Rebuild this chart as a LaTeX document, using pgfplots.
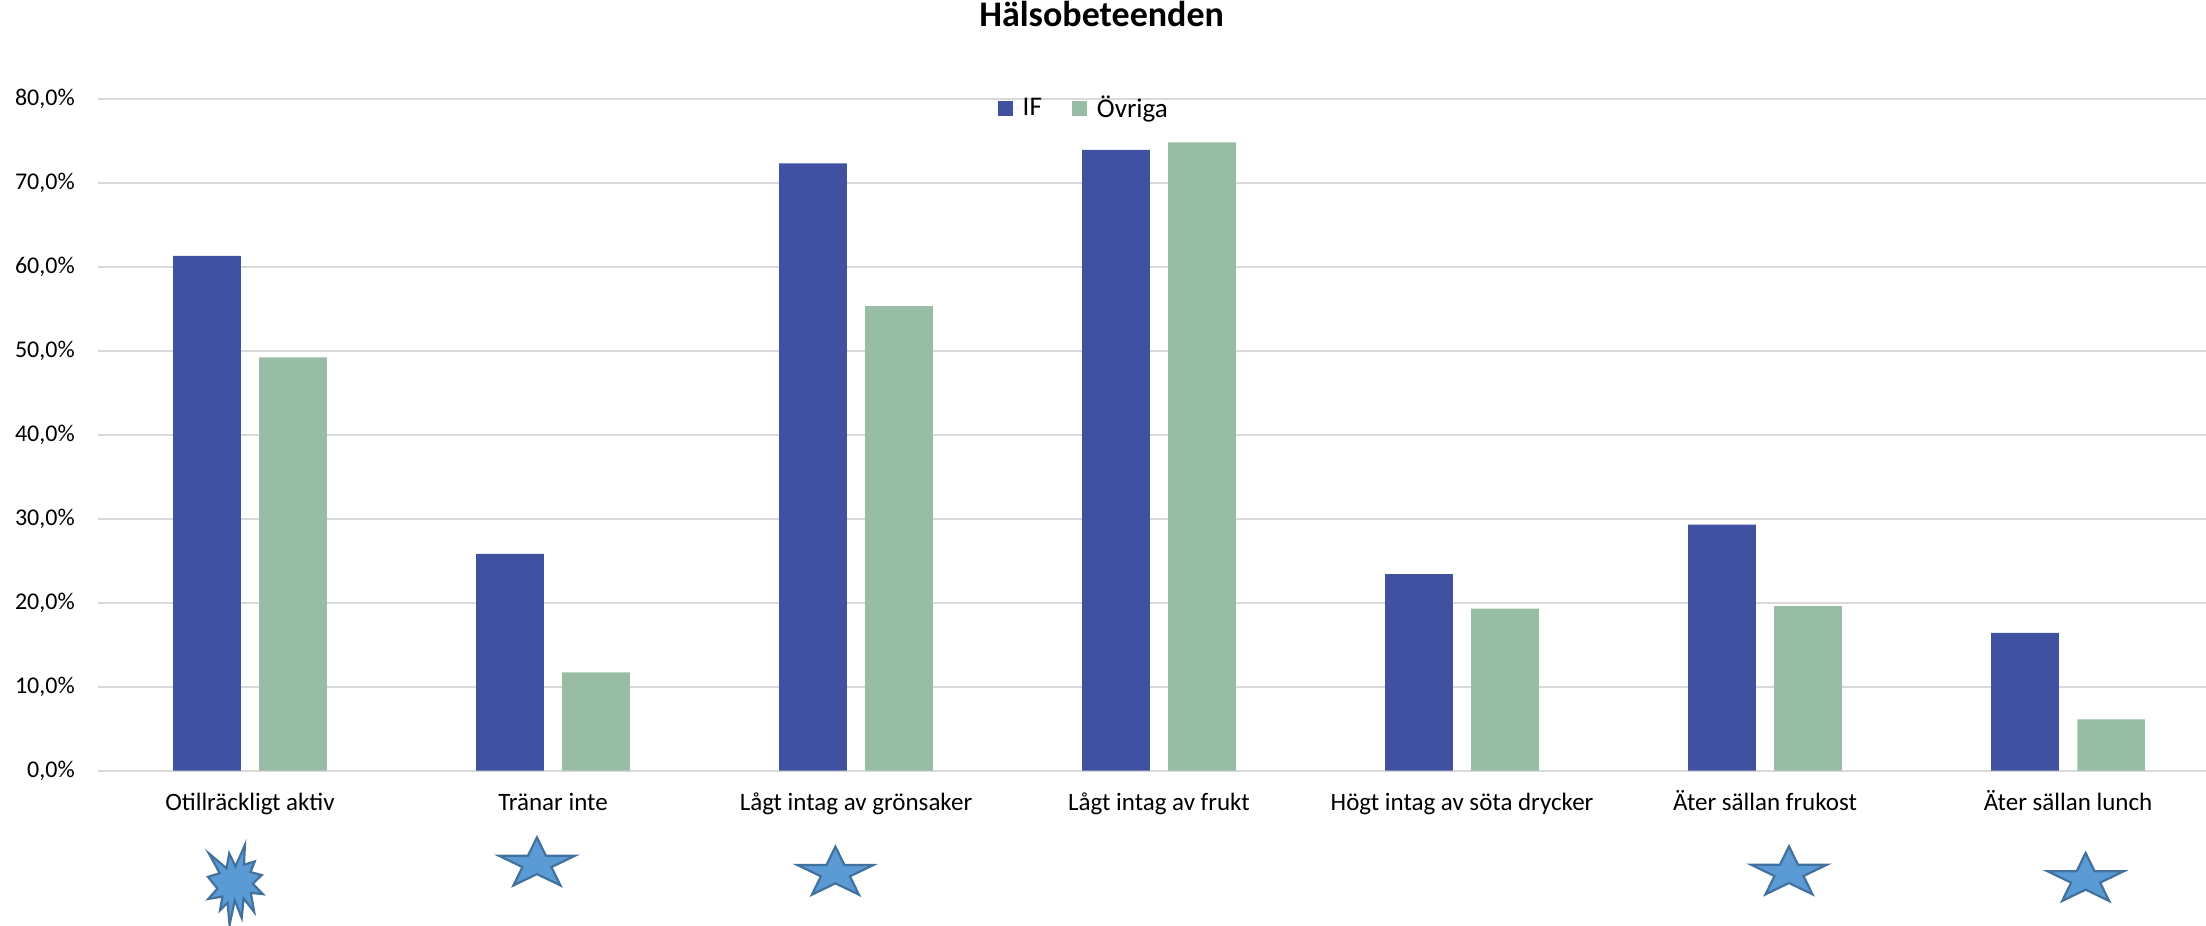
\documentclass[border=0pt]{standalone}
\usepackage{fontspec}
\setmainfont{Carlito}
\usepackage{pgfplots}
\usepackage{pgfplotstable}
\pgfplotsset{compat=1.18}
\definecolor{ifblue}{RGB}{63,81,160}
\definecolor{ovrgreen}{RGB}{151,189,165}
\definecolor{gridgray}{RGB}{217,217,217}
\definecolor{starfill}{RGB}{91,155,213}
\definecolor{starline}{RGB}{65,113,156}

\pgfdeclareplotmark{xlstar}{%
  \filldraw[fill=starfill,draw=starline,line width=1.1pt,line join=miter,scale=0.95]
  (0pt,12.0pt) -- (4.49pt,2.83pt) -- (19.0pt,2.83pt) -- (7.25pt,-2.84pt)
  -- (11.75pt,-12.0pt) -- (0pt,-6.34pt) -- (-11.75pt,-12.0pt) -- (-7.25pt,-2.84pt)
  -- (-19.0pt,2.83pt) -- (-4.49pt,2.83pt) -- cycle;}
\pgfdeclareplotmark{xlburst}{%
  \filldraw[fill=starfill,draw=starline,line width=1.1pt,line join=miter,scale=0.96]
  (0pt,9.26pt) -- (4.74pt,20pt) -- (4.27pt,10.14pt) -- (9.65pt,11.75pt)
  -- (7.51pt,6.45pt) -- (13.11pt,4.93pt) -- (8.67pt,0.60pt) -- (13.75pt,-4.61pt)
  -- (7.69pt,-3.97pt) -- (9.35pt,-13.51pt) -- (4.10pt,-6.77pt) -- (3.12pt,-16.55pt)
  -- (-0.34pt,-7.66pt) -- (-2.95pt,-20pt) -- (-3.93pt,-8.94pt) -- (-7.69pt,-12.62pt)
  -- (-6.54pt,-5.81pt) -- (-13.58pt,-7.01pt) -- (-9.01pt,-1.81pt) -- (-13.75pt,4.05pt)
  -- (-7.86pt,5.89pt) -- (-13.28pt,15.75pt) -- (-4.44pt,8.30pt) -- (-3.12pt,15.75pt)
  -- cycle;}

\pgfplotstableread{
x IF Ovr
0 61.3 49.2
1 25.8 11.7
2 72.3 55.3
3 73.9 74.8
4 23.4 19.3
5 29.3 19.6
6 16.4 6.1
}\datatable

\pgfplotstableread{
x y
0.947 -10.8
1.932 -11.9
5.079 -11.86
6.058 -12.65
}\starstable

\pgfplotstableread{
x y
-0.048 -13.6
}\bursttable

\begin{document}
\begin{tikzpicture}
\begin{axis}[
  name=ax,
  scale only axis,
  width=1053.75pt, height=336pt,
  xmin=-0.5, xmax=6.455,
  ymin=0, ymax=80,
  ytick={0,10,...,80},
  xtick={0,...,6},
  xticklabels={Otillräckligt aktiv, Tränar inte, Lågt intag av grönsaker, Lågt intag av frukt, Högt intag av söta drycker, Äter sällan frukost, Äter sällan lunch},
  major tick length=0pt,
  axis line style={draw=none},
  ymajorgrids,
  grid style={draw=gridgray, line width=1pt},
  clip=false,
  /pgf/number format/.cd, fixed, fixed zerofill, precision=1, use comma, assume math mode=true,
  /pgfplots/.cd,
  yticklabel={\pgfmathprintnumber{\tick}\%},
  yticklabel style={font=\fontsize{12}{14}\selectfont, anchor=east, inner sep=0pt, xshift=-11.7pt},
  xticklabel style={font=\fontsize{12.5}{15}\selectfont, anchor=base, inner sep=0pt, yshift=-20pt},
  title={Hälsobeteenden},
  title style={font=\bfseries\fontsize{18}{21}\selectfont, at={(0.476,1)}, anchor=base, yshift=30.3pt, inner sep=0pt},
  legend style={at={(0.4265,0.986)}, anchor=west, draw=none, fill=none, inner xsep=0pt, inner ysep=0pt,
    font=\fontsize{13.5}{16}\selectfont, legend columns=2,
    /tikz/every even column/.append style={column sep=13pt}},
  legend image code/.code={\fill[#1] (0pt,-3.75pt) rectangle (7.5pt,3.75pt); \path (0pt,0pt) -- (10.5pt,0pt);},
]
\addplot[ybar, bar width=0.2234, bar shift=-0.142, fill=ifblue, draw=none] table[x=x, y=IF] {\datatable};
\addlegendentry{IF}
\addplot[ybar, bar width=0.2234, bar shift=0.142, fill=ovrgreen, draw=none] table[x=x, y=Ovr] {\datatable};
\addlegendentry{Övriga}
\addplot[only marks, mark=xlstar, forget plot] table[x=x, y=y] {\starstable};
\addplot[only marks, mark=xlburst, forget plot] table[x=x, y=y] {\bursttable};
\end{axis}
\pgfresetboundingbox
\path ([shift={(-49.25pt,-77.65pt)}]ax.south west) rectangle ++(1103pt,463pt);
\end{tikzpicture}
\end{document}
